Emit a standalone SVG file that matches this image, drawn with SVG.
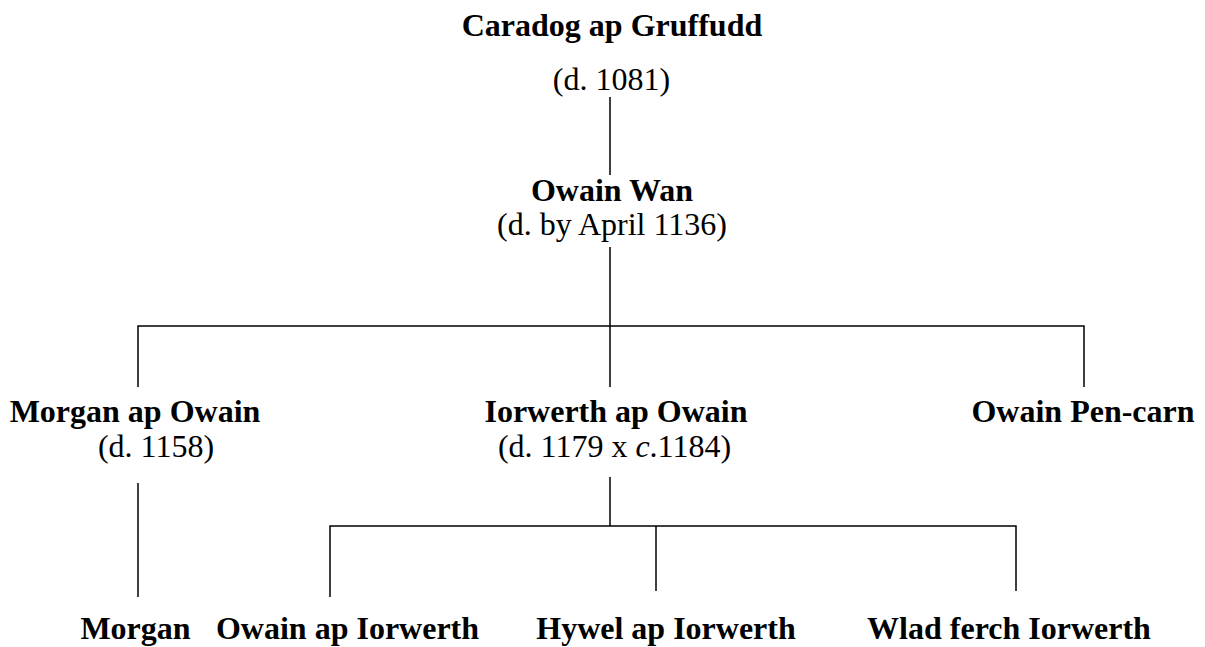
<svg xmlns="http://www.w3.org/2000/svg" width="1205" height="647" viewBox="0 0 1205 647">
<style>
text { font-family: "Liberation Serif", "Times New Roman", serif; font-size: 32px; fill: #000; text-anchor: middle; }
.n { font-weight: bold; }
.conn { stroke: #000; stroke-width: 1.5; fill: none; }
</style>
<rect width="1205" height="647" fill="#fff"/>
<g id="connectors" class="conn">
  <line x1="610" y1="97" x2="610" y2="175"/>
  <line x1="610" y1="247" x2="610" y2="387"/>
  <polyline points="138,387 138,326 1084,326 1084,387"/>
  <line x1="138" y1="483" x2="138" y2="597"/>
  <line x1="610" y1="477" x2="610" y2="526"/>
  <polyline points="330,597 330,526 1016,526 1016,591"/>
  <line x1="656" y1="526" x2="656" y2="591"/>
</g>
<g id="caradog">
  <text class="n" x="612" y="36">Caradog ap Gruffudd</text>
  <text x="611.5" y="90">(d. 1081)</text>
</g>
<g id="owain-wan">
  <text class="n" x="612" y="201">Owain Wan</text>
  <text x="612" y="235">(d. by April 1136)</text>
</g>
<g id="morgan-ap-owain">
  <text class="n" x="135" y="422">Morgan ap Owain</text>
  <text x="156" y="457">(d. 1158)</text>
</g>
<g id="iorwerth-ap-owain">
  <text class="n" x="616" y="422">Iorwerth ap Owain</text>
  <text x="614.5" y="457">(d. 1179 x <tspan font-style="italic">c</tspan>.1184)</text>
</g>
<g id="owain-pen-carn">
  <text class="n" x="1083" y="422">Owain Pen-carn</text>
</g>
<g id="morgan">
  <text class="n" x="135.5" y="639">Morgan</text>
</g>
<g id="owain-ap-iorwerth">
  <text class="n" x="347.5" y="639">Owain ap Iorwerth</text>
</g>
<g id="hywel-ap-iorwerth">
  <text class="n" x="666" y="639">Hywel ap Iorwerth</text>
</g>
<g id="wlad-ferch-iorwerth">
  <text class="n" x="1009" y="639">Wlad ferch Iorwerth</text>
</g>
</svg>
